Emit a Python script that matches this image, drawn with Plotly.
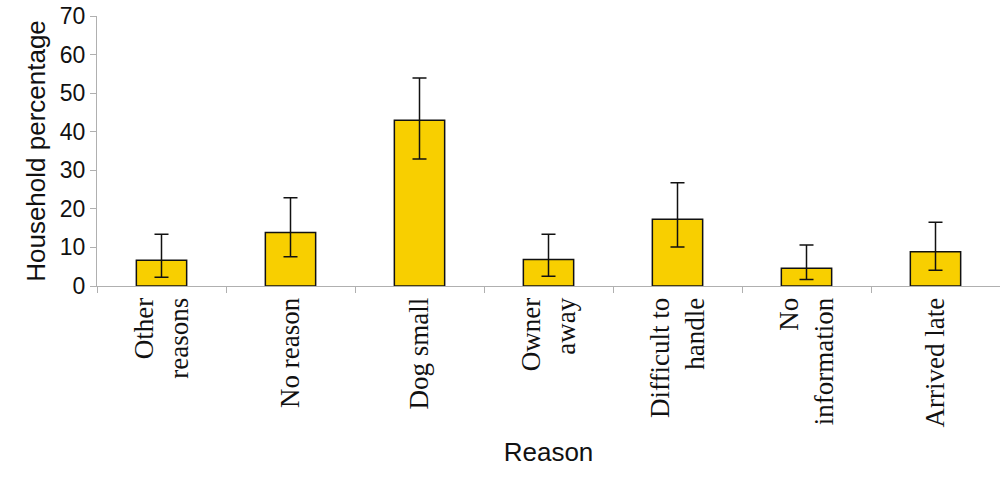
import plotly.graph_objects as go

categories = ["Other<br>reasons", "No reason", "Dog small", "Owner<br>away",
              "Difficult to<br>handle", "No<br>information", "Arrived late"]
values = [6.7, 13.9, 43.0, 6.9, 17.3, 4.6, 8.9]
err_upper = [13.4, 22.9, 53.9, 13.4, 26.8, 10.6, 16.5]
err_lower = [2.3, 7.6, 32.9, 2.5, 10.1, 1.7, 4.1]

plus = [u - v for u, v in zip(err_upper, values)]
minus = [v - l for v, l in zip(values, err_lower)]

fig = go.Figure(go.Bar(
    x=categories, y=values, width=0.39,
    marker=dict(color="#F8CF00", line=dict(color="#111111", width=1.5)),
    error_y=dict(type="data", symmetric=False, array=plus, arrayminus=minus,
                 color="#111111", thickness=1.5, width=7),
))

fig.update_layout(
    width=1000, height=477,
    margin=dict(l=97, r=0, t=16, b=191),
    plot_bgcolor="white", paper_bgcolor="white",
    showlegend=False,
)
fig.update_yaxes(
    range=[0, 70], dtick=10, showgrid=False, zeroline=False, automargin=False,
    ticklabeloverflow="allow",
    showline=True, linecolor="#b0b0b0", linewidth=1,
    ticks="outside", ticklen=6, tickcolor="#b0b0b0",
    tickfont=dict(family="Liberation Sans, Arial", size=23, color="#111"),
    title=dict(text="Household percentage", standoff=6,
               font=dict(family="Liberation Sans, Arial", size=26, color="#111")),
)
fig.update_xaxes(
    showgrid=False, showline=True, linecolor="#b0b0b0", linewidth=1, automargin=False,
    ticklabeloverflow="allow",
    ticks="outside", ticklen=6, tickcolor="#b0b0b0", tickson="boundaries",
    tickangle=-90,
    tickfont=dict(family="Liberation Serif, Times New Roman", size=27, color="#111"),
    title=dict(text="Reason", standoff=16,
               font=dict(family="Liberation Sans, Arial", size=26, color="#111")),
)

fig.write_html("out.html", config={"displayModeBar": False},
               post_script="document.body.style.margin='0';")
